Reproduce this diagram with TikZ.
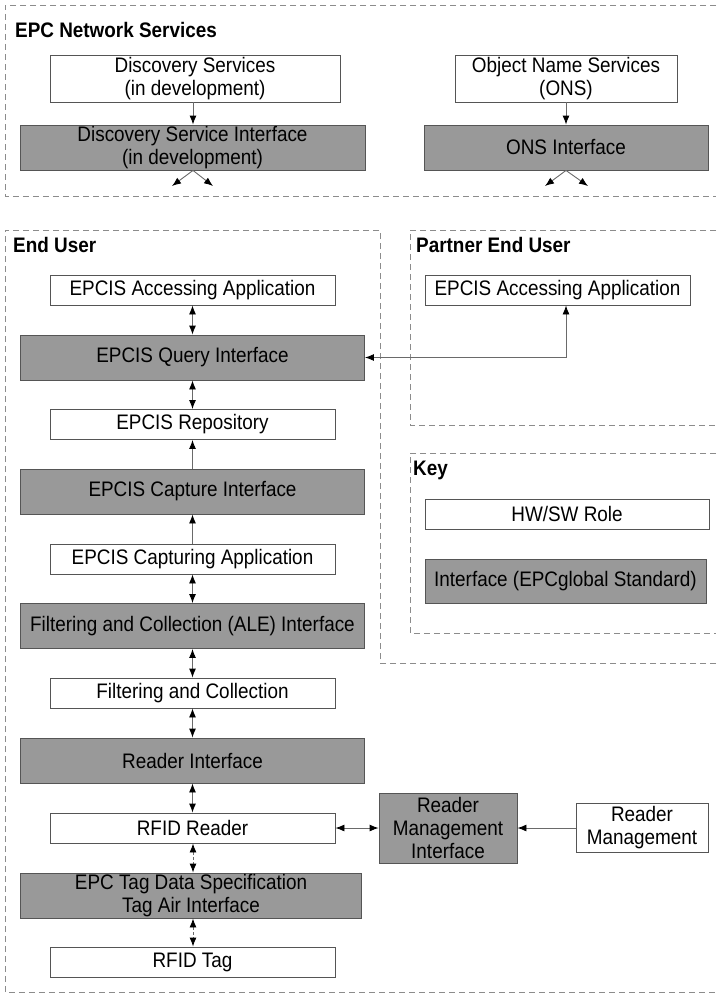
\documentclass[tikz,border=0pt]{standalone}
\usepackage{fontspec}
\setmainfont{Liberation Sans}[FakeStretch=0.9]
\usetikzlibrary{arrows.meta}
\definecolor{boxgray}{HTML}{999999}
\definecolor{edgegray}{HTML}{555555}
\definecolor{linkgray}{HTML}{6A6A6A}
\definecolor{regiongray}{HTML}{8C8C8C}
\begin{document}
\begin{tikzpicture}[x=1pt,y=-1pt,
  every node/.style={font=\fontsize{21}{23}\selectfont, inner sep=0pt, align=center},
  role/.style={draw=edgegray, line width=0.9pt, fill=white},
  iface/.style={draw=edgegray, line width=0.9pt, fill=boxgray},
  region/.style={draw=regiongray, line width=0.9pt, dash pattern=on 6pt off 4pt},
  title/.style={font=\bfseries\fontsize{21}{23}\selectfont, anchor=west},
  link/.style={draw=linkgray, line width=0.9pt, -{Latex[length=9pt,width=7pt,black]}},
  biflow/.style={draw=linkgray, line width=0.9pt, {Latex[length=9pt,width=7pt,black]}-{Latex[length=9pt,width=7pt,black]}},
  airlink/.style={biflow, dash pattern=on 3pt off 2pt}
]
\useasboundingbox (0,0) rectangle (716,993);

% ---- dashed regions ----
\draw[region] (716,5) -- (5,5) -- (5,196) -- (716,196);
\draw[region] (716,663) -- (380,663) -- (380,230) -- (5,230) -- (5,992) -- (716,992);
\draw[region] (716,230) -- (410,230) -- (410,425) -- (716,425);
\draw[region] (716,453) -- (410,453) -- (410,633) -- (716,633);

\node[title] (tnet) at (15,30) {EPC Network Services};
\node[title] (teu) at (13,245) {End User};
\node[title] (tpeu) at (416,245) {Partner End User};
\node[title] (tkey) at (413,470) {Key};

% ---- EPC network services ----
\node[role, minimum width=290pt, minimum height=47pt] (ds) at (195,78.5) {Discovery Services\\(in development)};
\node[iface, minimum width=345pt, minimum height=45pt] (dsi) at (192.5,147.5) {Discovery Service Interface\\(in development)};
\node[role, minimum width=222pt, minimum height=47pt] (ons) at (566,78.5) {Object Name Services\\(ONS)};
\node[iface, minimum width=284pt, minimum height=45pt] (onsi) at (566,147.5) {ONS Interface};

\coordinate (dsl) at (172,186);
\coordinate (dsr) at (213,186);
\coordinate (onl) at (545,186);
\coordinate (onr) at (588,186);

\draw[link] (ds.south -| 193,0) -- (dsi.north -| 193,0);
\draw[link] (ons.south) -- (onsi.north);
\draw[link] (dsi.south -| 193,0) -- (dsl);
\draw[link] (dsi.south -| 193,0) -- (dsr);
\draw[link] (onsi.south) -- (onl);
\draw[link] (onsi.south) -- (onr);

% ---- end user stack ----
\tikzset{wide/.style={minimum width=344pt, minimum height=45pt},
         narrow/.style={minimum width=285pt, minimum height=30pt}}
\node[role, narrow] (eaa) at (192.5,290) {EPCIS Accessing Application};
\node[iface, wide] (eqi) at (192.5,357.5) {EPCIS Query Interface};
\node[role, narrow] (erp) at (192.5,424.5) {EPCIS Repository};
\node[iface, wide] (eci) at (192.5,491.5) {EPCIS Capture Interface};
\node[role, narrow] (eca) at (192.5,559) {EPCIS Capturing Application};
\node[iface, wide] (ale) at (192.5,626) {Filtering and Collection (ALE) Interface};
\node[role, narrow] (fac) at (192.5,693) {Filtering and Collection};
\node[iface, wide] (rdi) at (192.5,760.5) {Reader Interface};
\node[role, narrow] (rfr) at (192.5,828) {RFID Reader};
\node[iface, minimum width=341pt, minimum height=45pt] (tds) at (191,895.5) {EPC Tag Data Specification\\Tag Air Interface};
\node[role, narrow] (rft) at (192.5,962) {RFID Tag};

\node[iface, minimum width=138pt, minimum height=70pt] (rmi) at (448,828) {Reader\\Management\\Interface};
\node[role, minimum width=132pt, minimum height=49pt] (rmg) at (642,827.5) {Reader\\Management};

% ---- partner and key ----
\node[role, minimum width=265pt, minimum height=30pt] (paa) at (557.5,290) {EPCIS Accessing Application};
\node[role, minimum width=284pt, minimum height=30pt] (khw) at (567,514) {HW/SW Role};
\node[iface, minimum width=281pt, minimum height=44pt] (kif) at (565.5,581) {Interface (EPCglobal Standard)};

% ---- connectors ----
\draw[biflow] (eaa) -- (eqi);
\draw[biflow] (eqi) -- (erp);
\draw[link] (eci) -- (erp);
\draw[link] (eca) -- (eci);
\draw[biflow] (eca) -- (ale);
\draw[biflow] (ale) -- (fac);
\draw[biflow] (fac) -- (rdi);
\draw[biflow] (rdi) -- (rfr);
\draw[airlink] (rfr.south -| 193,0) -- (tds.north -| 193,0);
\draw[airlink] (tds.south -| 193,0) -- (rft.north -| 193,0);
\draw[biflow] (rfr) -- (rfr -| rmi.west);
\draw[link] (rmg.west |- rmi) -- (rmi.east);
\draw[biflow] (eqi.east) -| (paa.south -| 566,0);
\end{tikzpicture}
\end{document}
